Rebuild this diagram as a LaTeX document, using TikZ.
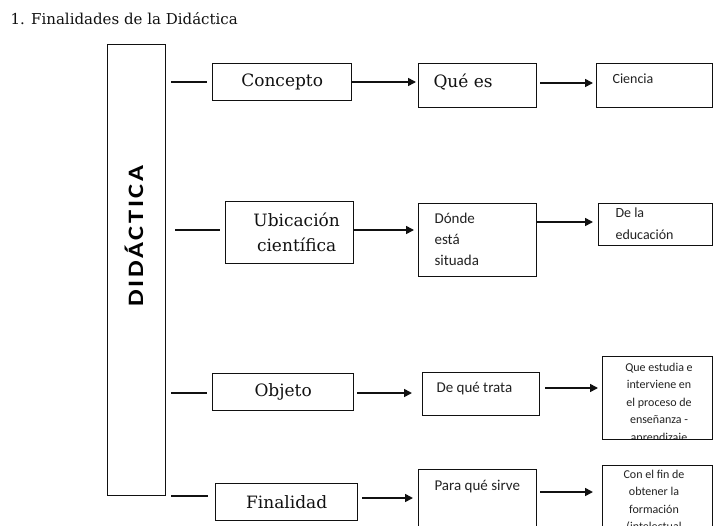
\documentclass[tikz,border=0pt]{standalone}
\usepackage{fontspec}
\setmainfont{DejaVu Serif}
\newfontfamily\carl{Carlito}
\newfontfamily\didfont[LetterSpace=10]{Carlito}
\usetikzlibrary{arrows.meta}
\definecolor{ink}{HTML}{111111}
\definecolor{soft}{HTML}{222222}
\begin{document}
\begin{tikzpicture}[x=1pt,y=-1pt,
  box/.style={draw=ink, line width=1.3pt, inner sep=0pt, anchor=north west},
  serif/.style={font=\fontsize{17}{25}\selectfont, text=ink, align=center},
  sans/.style={font=\carl\fontsize{15}{21}\selectfont, text=soft, align=left, anchor=base west},
  small/.style={font=\carl\fontsize{12}{17.5}\selectfont, text=soft, align=center, anchor=base},
  stub/.style={draw=ink, line width=1.3pt, shorten <=5pt, shorten >=5pt},
  arr/.style={draw=ink, line width=1.6pt, -{Triangle[length=8pt,width=8pt]}}]
\useasboundingbox (0,0) rectangle (714,525);
\fill[white] (0,0) rectangle (714,525);

\node[anchor=base west, font=\fontsize{15}{18}\selectfont, text=ink] (title) at (7,24) {1. Finalidades de la Didáctica};

% main vertical box
\node[box, minimum width=58pt, minimum height=451pt] (did) at (107,44) {};
\node[rotate=90, anchor=base, font=\didfont\bfseries\fontsize{22}{26}\selectfont, text=black] (didtext) at (143,236) {\scalebox{1.2}[1]{DIDÁCTICA}};

% column 1
\node[box, serif, minimum width=139pt, minimum height=37pt] (concepto) at (212,63) {Concepto};
\node[box, serif, minimum width=128pt, minimum height=62pt] (ubic) at (225,201) {\hspace*{14pt}Ubicación\\\hspace*{14pt}científica};
\node[box, serif, minimum width=141pt, minimum height=37pt] (objeto) at (212,373) {Objeto};
\node[box, serif, minimum width=142pt, minimum height=37pt] (finalidad) at (215,483) {Finalidad};

% column 2
\node[box, minimum width=118pt, minimum height=44pt] (quees) at (418,63) {};
\node[anchor=base west, font=\fontsize{17}{20}\selectfont, text=ink] (queestxt) at (430,87) {Qué es};
\node[box, minimum width=118pt, minimum height=73pt] (donde) at (418,203) {};
\node[sans] (dondetxt) at (431,265) {Dónde\\está\\situada};
\node[box, minimum width=117pt, minimum height=43pt] (trata) at (422,372) {};
\node[sans] (tratatxt) at (433,392) {De qué trata};
\node[box, minimum width=118pt, minimum height=70pt] (sirve) at (418,469) {};
\node[sans] (sirvetxt) at (431,490) {Para qué sirve};

% column 3
\node[box, minimum width=116pt, minimum height=44pt] (ciencia) at (596,63) {};
\node[sans, font=\carl\fontsize{14}{20}\selectfont] (cienciatxt) at (609,83) {Ciencia};
\node[box, minimum width=114pt, minimum height=42pt] (dela) at (598,203) {};
\node[sans, font=\carl\fontsize{14}{22}\selectfont] (delatxt) at (612,239) {De la\\educación};
\begin{scope}
\clip (602,356) rectangle (712,439);
\node[small] (estudiatxt) at (659,441) {Que estudia e\\interviene en\\el proceso de\\enseñanza -\\aprendizaje};
\end{scope}
\node[box, minimum width=110pt, minimum height=83pt] (estudia) at (602,356) {};
\node[box, minimum width=110pt, minimum height=70pt] (confin) at (602,465) {};
\node[small] (confintxt) at (654,530.5) {Con el fin de\\obtener la\\formación\\(intelectual};

% stubs
\coordinate (y1) at (0,82);
\coordinate (y2) at (0,230);
\coordinate (y3) at (0,393);
\coordinate (y4) at (0,496);
\draw[stub] (did.east |- y1) -- (concepto.west |- y1);
\draw[stub, shorten <=9pt] (did.east |- y2) -- (ubic.west |- y2);
\draw[stub] (did.east |- y3) -- (objeto.west |- y3);
\draw[stub, shorten >=7pt] (did.east |- y4) -- (finalidad.west |- y4);

% arrows column 1 -> 2
\coordinate (a1) at (0,82);
\coordinate (a2) at (0,230);
\coordinate (a3) at (0,393);
\coordinate (a4) at (0,498);
\draw[arr, shorten >=2pt] (concepto.east |- a1) -- (quees.west |- a1);
\draw[arr, shorten >=4pt] (ubic.east |- a2) -- (donde.west |- a2);
\draw[arr, shorten <=3pt, shorten >=10pt] (objeto.east |- a3) -- (trata.west |- a3);
\draw[arr, shorten <=4pt, shorten >=5pt] (finalidad.east |- a4) -- (sirve.west |- a4);

% arrows column 2 -> 3
\coordinate (b1) at (0,83);
\coordinate (b2) at (0,222);
\coordinate (b3) at (0,388);
\coordinate (b4) at (0,492);
\draw[arr, shorten <=3pt, shorten >=3pt] (quees.east |- b1) -- (ciencia.west |- b1);
\draw[arr, shorten >=5pt] (donde.east |- b2) -- (dela.west |- b2);
\draw[arr, shorten <=5pt, shorten >=4pt] (trata.east |- b3) -- (estudia.west |- b3);
\draw[arr, shorten <=3pt, shorten >=9pt] (sirve.east |- b4) -- (confin.west |- b4);
\end{tikzpicture}
\end{document}
